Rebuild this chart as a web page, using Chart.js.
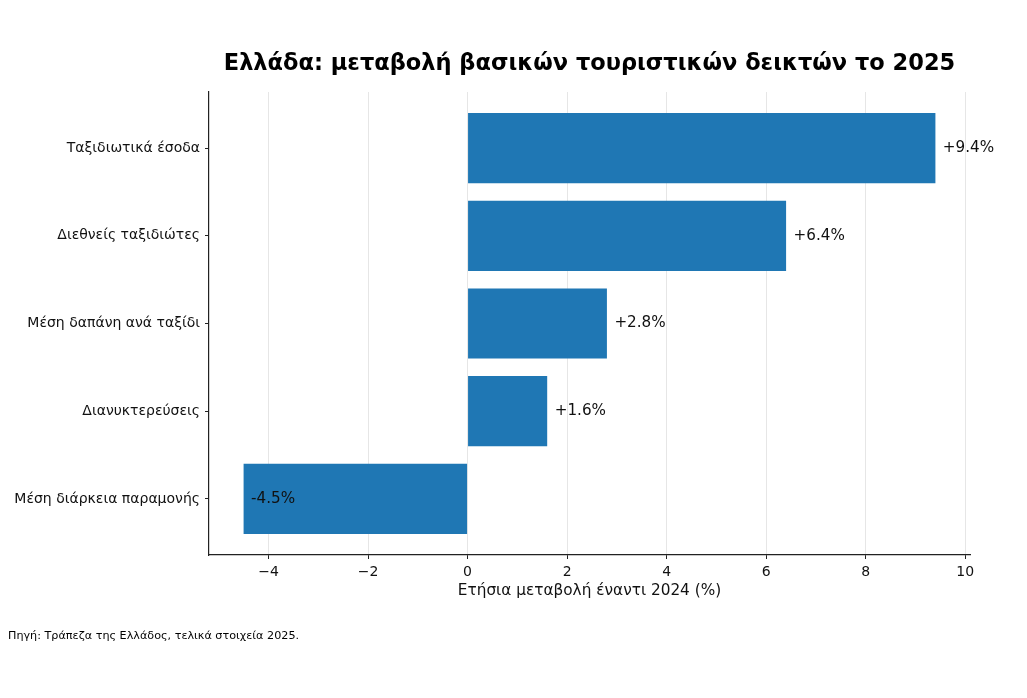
<!DOCTYPE html>
<html>
<head>
<meta charset="utf-8">
<script src="https://cdn.jsdelivr.net/npm/chart.js@4.4.1/dist/chart.umd.min.js"></script>
<style>
  html, body { margin: 0; padding: 0; background: #ffffff; }
  #wrap { width: 1027px; height: 698px; position: relative; }
</style>
</head>
<body>
<div id="wrap"><canvas id="c" width="1027" height="698"></canvas></div>
<script>
const categories = [
  "Ταξιδιωτικά έσοδα",
  "Διεθνείς ταξιδιώτες",
  "Μέση δαπάνη ανά ταξίδι",
  "Διανυκτερεύσεις",
  "Μέση διάρκεια παραμονής"
];
const values = [9.4, 6.4, 2.8, 1.6, -4.5];
const valueLabels = ["+9.4%", "+6.4%", "+2.8%", "+1.6%", "-4.5%"];
const xTicks = [-4, -2, 0, 2, 4, 6, 8, 10];
const titleText = "Ελλάδα: μεταβολή βασικών τουριστικών δεικτών το 2025";
const xAxisTitle = "Ετήσια μεταβολή έναντι 2024 (%)";
const sourceText = "Πηγή: Τράπεζα της Ελλάδος, τελικά στοιχεία 2025.";

const FONT = "'DejaVu Sans', sans-serif";
const points = values.map((v, i) => ({ x: v, y: i }));

const textPlugin = {
  id: 'texts',
  afterDatasetsDraw(chart) {
    const ctx = chart.ctx;
    const xs = chart.scales.x, ys = chart.scales.y;
    ctx.save();
    ctx.font = "15.2px " + FONT;
    ctx.fillStyle = "#111";
    ctx.textAlign = "left";
    ctx.textBaseline = "middle";
    values.forEach((v, i) => {
      ctx.fillText(valueLabels[i], xs.getPixelForValue(v + 0.15), ys.getPixelForValue(i));
    });
    const ca = chart.chartArea;
    ctx.font = "bold 22.5px " + FONT;
    ctx.fillStyle = "#000";
    ctx.textAlign = "center";
    ctx.textBaseline = "middle";
    ctx.fillText(titleText, (ca.left + ca.right) / 2, 64);
    ctx.font = "15.3px " + FONT;
    ctx.fillStyle = "#111";
    ctx.fillText(xAxisTitle, (ca.left + ca.right) / 2, 591);
    ctx.font = "11.2px " + FONT;
    ctx.textAlign = "left";
    ctx.fillStyle = "#000";
    ctx.fillText(sourceText, 8, 636);
    ctx.restore();
  }
};

new Chart(document.getElementById('c'), {
  type: 'bar',
  data: {
    datasets: [{
      data: points,
      backgroundColor: '#1f77b4',
      borderWidth: 0,
      barPercentage: 0.8,
      categoryPercentage: 1.0
    }]
  },
  options: {
    indexAxis: 'y',
    responsive: false,
    animation: false,
    layout: { padding: { left: 0, right: 57, top: 92, bottom: 0 } },
    plugins: { legend: { display: false }, tooltip: { enabled: false }, title: { display: false } },
    scales: {
      x: {
        type: 'linear',
        min: -5.195,
        max: 10.095,
        z: 1,
        afterBuildTicks: (s) => { s.ticks = xTicks.map(v => ({ value: v })); },
        afterFit: (s) => { s.height = 143; },
        ticks: {
          font: { family: FONT, size: 14 },
          color: '#111',
          padding: 5,
          maxRotation: 0,
          callback: (v) => (v < 0 ? '\u2212' + Math.abs(v) : String(v))
        },
        grid: {
          color: 'rgba(200,200,200,0.45)',
          lineWidth: 1,
          tickColor: '#222',
          tickLength: 4
        },
        border: { display: true, color: '#222', width: 1.2 }
      },
      y: {
        type: 'linear',
        reverse: true,
        offset: false,
        min: -0.64,
        max: 4.64,
        afterBuildTicks: (s) => { s.ticks = categories.map((c, i) => ({ value: i })); },
        afterFit: (s) => { s.width = 209; },
        ticks: {
          font: { family: FONT, size: 14 },
          color: '#111',
          padding: 5,
          callback: (v) => categories[v]
        },
        grid: {
          offset: false,
          drawOnChartArea: false,
          tickColor: '#222',
          tickLength: 4
        },
        border: { display: true, color: '#222', width: 1.2 }
      }
    }
  },
  plugins: [textPlugin]
});
</script>
</body>
</html>
